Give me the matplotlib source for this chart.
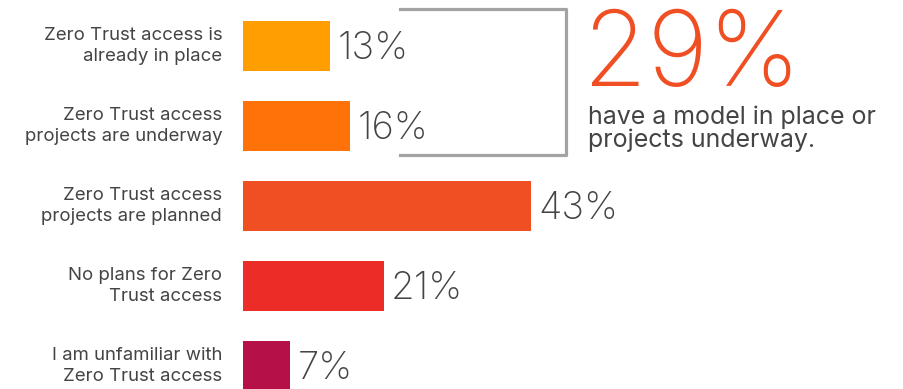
import matplotlib
matplotlib.use("Agg")
import matplotlib.pyplot as plt
from matplotlib.lines import Line2D

plt.rcParams["font.family"] = ["Inter", "DejaVu Sans"]

categories = [
    "Zero Trust access is\nalready in place",
    "Zero Trust access\nprojects are underway",
    "Zero Trust access\nprojects are planned",
    "No plans for Zero\nTrust access",
    "I am unfamiliar with\nZero Trust access",
]
values = [13, 16, 43, 21, 7]
colors = ["#FF9E00", "#FF7207", "#F04E23", "#EC2C27", "#B51047"]

headline = "29%"
headline_text = "have a model in place or\nprojects underway."

W, H = 904, 389
fig = plt.figure(figsize=(W / 100, H / 100), dpi=100)

# bars live in an axes that starts where the bars start
ax = fig.add_axes([243 / W, 0, 1 - 243 / W, 1])
ax.barh(range(len(values)), values, height=0.63, color=colors)
ax.set_xlim(0, (W - 243) / 6.7)
ax.set_ylim(4 + 23 / 80, -46 / 80)
ax.axis("off")

for i, (v, lab) in enumerate(zip(values, categories)):
    ax.text(v + 1.1, i + 0.04, f"{v}%", va="center", ha="left",
            fontsize=27.5, fontweight="light", color="#444444")
    ax.text(-3.1, i, lab, va="center", ha="right", fontsize=13.4,
            color="#444444", linespacing=1.3)


def px(x, y):
    return x / W, 1 - y / H


# bracket around the first two rows
bx = [400, 566, 566, 400]
by = [9, 9, 155, 155]
fig.add_artist(Line2D([px(x, 0)[0] for x in bx], [px(0, y)[1] for y in by],
                      color="#A3A3A3", lw=2.3, transform=fig.transFigure))

fig.text(*px(583, 86), headline, fontsize=75, fontweight="light",
         color="#F04E23", ha="left", va="baseline")
fig.text(*px(588, 147), headline_text, fontsize=18, color="#444444",
         ha="left", va="baseline", linespacing=0.95)

fig.savefig("out.png", dpi=100)
